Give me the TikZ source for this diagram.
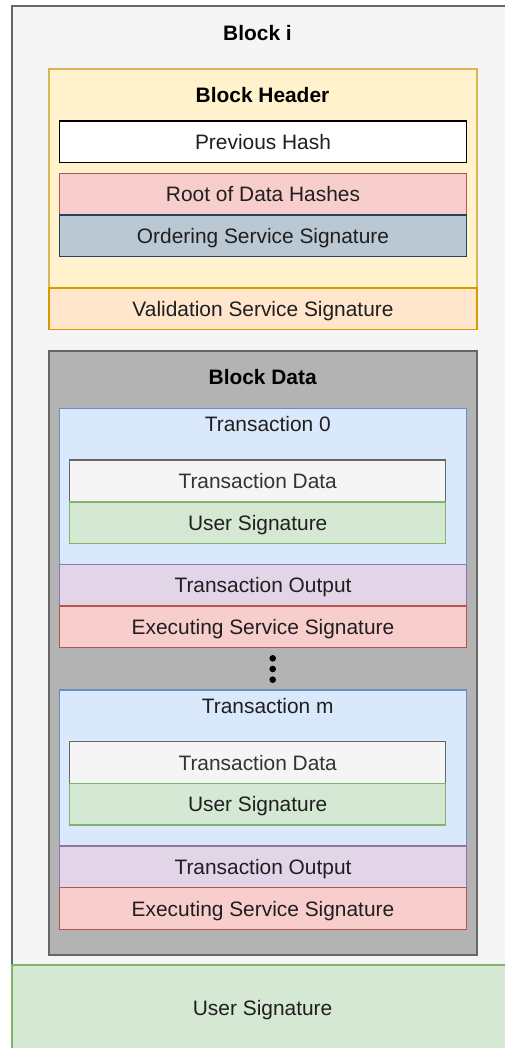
\documentclass[tikz,border=0pt]{standalone}
\usepackage{fontspec}
\setmainfont{Liberation Sans}
\usetikzlibrary{positioning}

\definecolor{outerfill}{HTML}{F5F5F5}
\definecolor{outerline}{HTML}{666666}
\definecolor{headfill}{HTML}{FFF2CC}
\definecolor{headline}{HTML}{D6B656}
\definecolor{valfill}{HTML}{FFE6CC}
\definecolor{valline}{HTML}{D79B00}
\definecolor{redfill}{HTML}{F8CECC}
\definecolor{redline}{HTML}{B85450}
\definecolor{ordfill}{HTML}{BAC8D3}
\definecolor{ordline}{HTML}{23445D}
\definecolor{datafill}{HTML}{B3B3B3}
\definecolor{txfill}{HTML}{DAE8FC}
\definecolor{txline}{HTML}{6C8EBF}
\definecolor{greenfill}{HTML}{D5E8D4}
\definecolor{greenline}{HTML}{82B366}
\definecolor{outfill}{HTML}{E1D5E7}
\definecolor{outline}{HTML}{9673A6}
\definecolor{txtgray}{HTML}{333333}

\tikzset{
  field/.style={draw, line width=1.1pt, inner sep=0pt, text height=15pt, text depth=0pt,
    font=\fontsize{20.9}{25}\selectfont, text=black!88},
  title/.style={inner sep=0pt, text height=15pt, text depth=0pt,
    font=\fontsize{20.9}{25}\selectfont\bfseries}
}

\begin{document}
\begin{tikzpicture}[x=1pt,y=-1pt]
	\useasboundingbox (0,0) rectangle (505,1048);
	% block i
	\node[field,fill=outerfill,draw=outerline,minimum width=518,minimum height=1054] (blocki) at (271,533){};
	\node[title] (blockititle) at (257.5,33.5){Block i};
	% header
	\node[field,fill=headfill,draw=headline,minimum width=428,minimum height=219] (header) at (263,178.5){};
	\node[title] (headertitle) at (262.5,95.5){Block Header};
	\node[field,fill=white,draw=black,minimum width=407.4,minimum height=41.7] (prevhash) at (263,141.85){Previous Hash};
	\node[field,fill=redfill,draw=redline,minimum width=407.4,minimum height=41.7] (roothash) at (263,194.15){Root of Data Hashes};
	\node[field,fill=ordfill,draw=ordline,minimum width=407.4,minimum height=41.7] (ordsig) at (263,235.85){Ordering Service Signature};
	\node[field,fill=valfill,draw=valline,minimum width=428,minimum height=41.5] (valsig) at (263,308.75){Validation Service Signature};
	% block data
	\node[field,fill=datafill,draw=outerline,minimum width=428,minimum height=604] (data) at (263,653){};
	\node[title] (datatitle) at (262.7,377){Block Data};
	% transaction 0
	\node[field,fill=txfill,draw=txline,minimum width=407.4,minimum height=156] (tx0) at (263,486.3){};
	\node[field,draw=none] (tx0title) at (267.8,424){Transaction 0};
	\node[field,fill=outerfill,draw=outerline,text=txtgray,minimum width=376,minimum height=42] (txdata0) at (257.7,481){Transaction Data};
	\node[field,fill=greenfill,draw=greenline,minimum width=376,minimum height=41.3] (usersig0) at (257.7,522.65){User Signature};
	\node[field,fill=outfill,draw=outline,minimum width=407.4,minimum height=41.7] (txout0) at (263,585.15){Transaction Output};
	\node[field,fill=redfill,draw=redline,minimum width=407.4,minimum height=41.7] (execsig0) at (263,626.85){Executing Service Signature};
	% dots
	\fill (272.7,658.3) circle (3.3) (272.7,669) circle (3.3) (272.7,679.7) circle (3.3);
	% transaction m
	\node[field,fill=txfill,draw=txline,minimum width=407.4,minimum height=156] (txm) at (263,768){};
	\node[field,draw=none] (txmtitle) at (267.7,705.7){Transaction m};
	\node[field,fill=outerfill,draw=outerline,text=txtgray,minimum width=376,minimum height=42] (txdatam) at (257.7,762.7){Transaction Data};
	\node[field,fill=greenfill,draw=greenline,minimum width=376,minimum height=41.3] (usersigm) at (257.7,804.35){User Signature};
	\node[field,fill=outfill,draw=outline,minimum width=407.4,minimum height=41.7] (txoutm) at (263,866.85){Transaction Output};
	\node[field,fill=redfill,draw=redline,minimum width=407.4,minimum height=41.7] (execsigm) at (263,908.55){Executing Service Signature};
	% user signature of the block
	\node[field,fill=greenfill,draw=greenline,minimum width=501.2,minimum height=86] (blocksig) at (262.6,1008){User Signature};
\end{tikzpicture}
\end{document}
